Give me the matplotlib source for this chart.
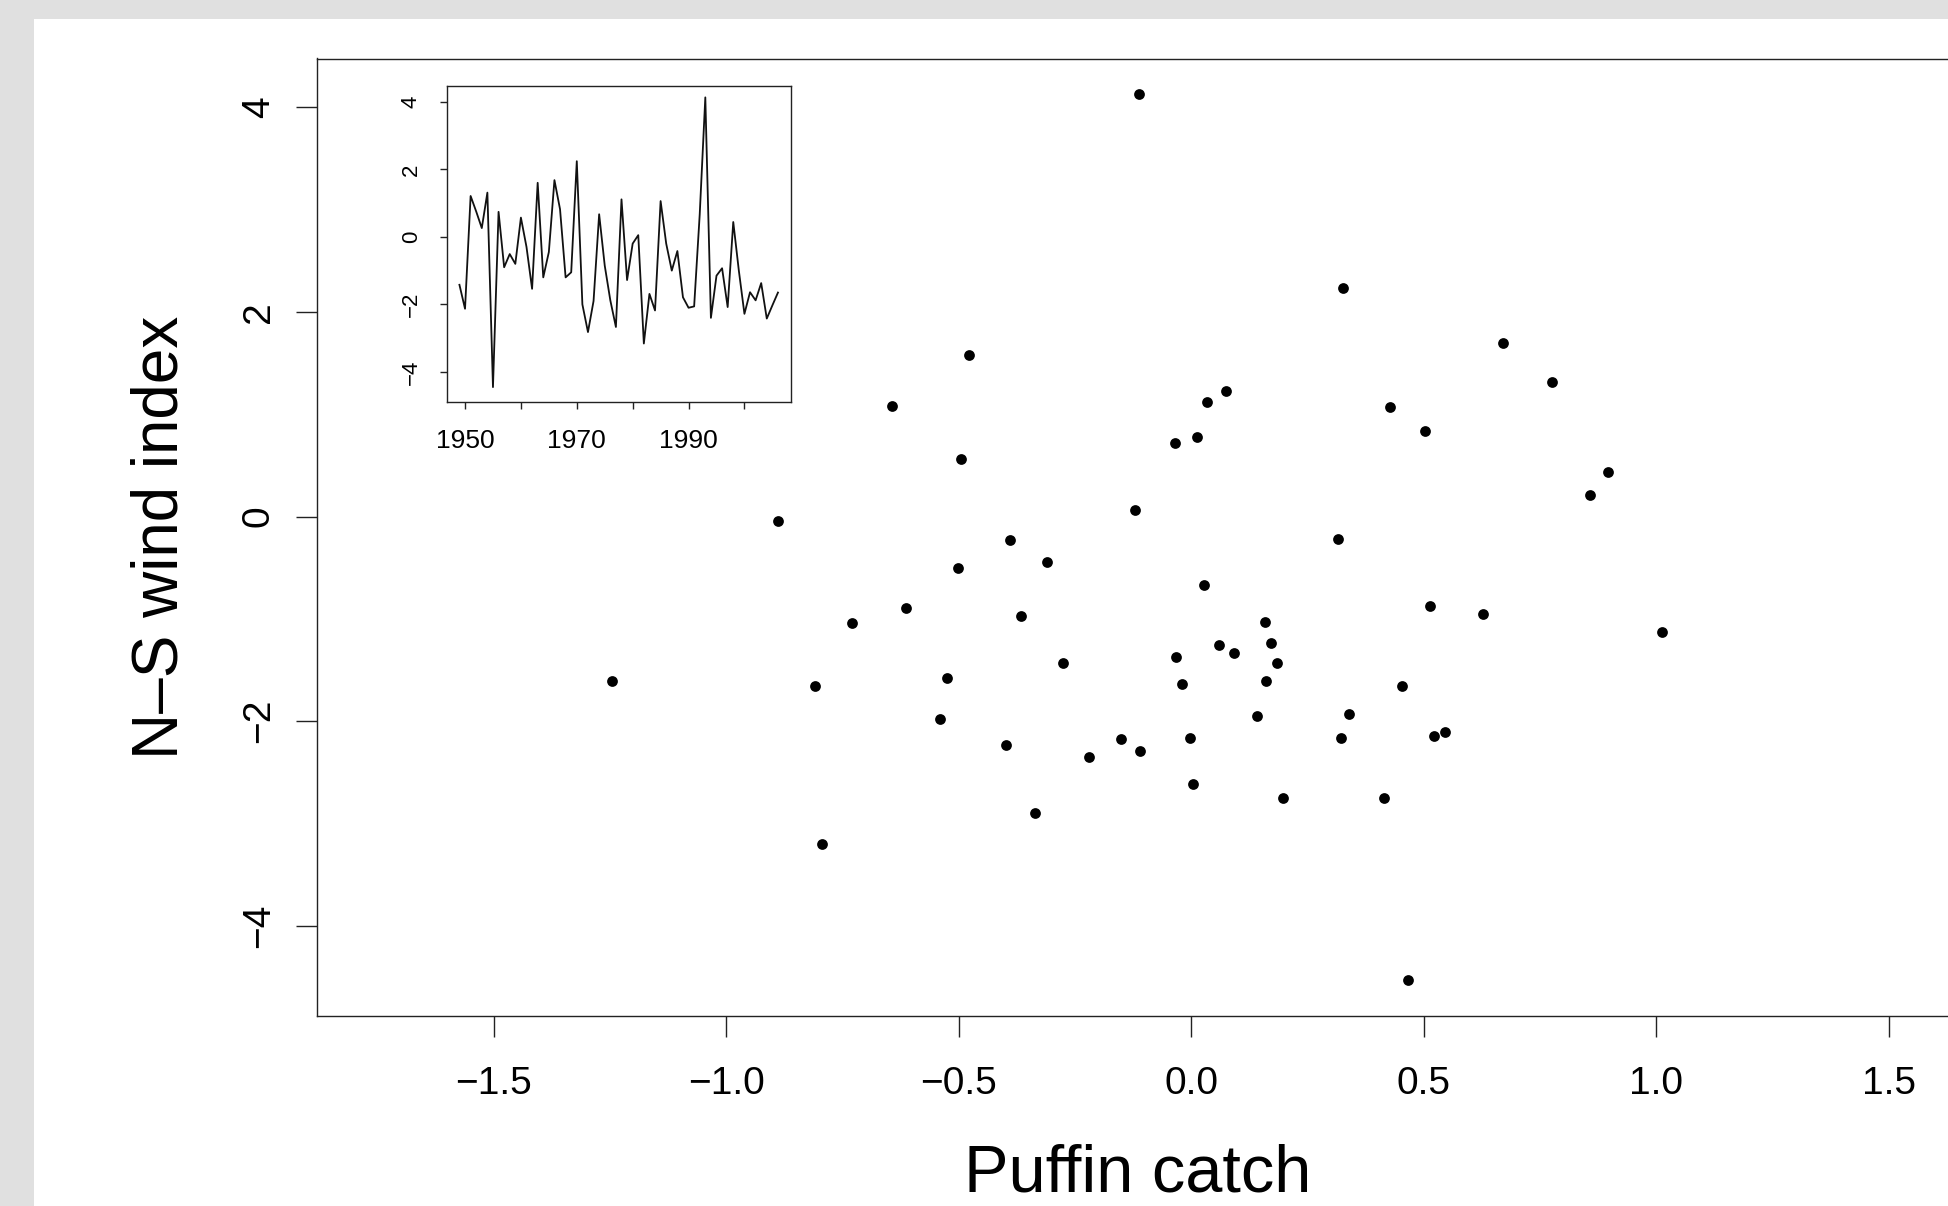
import matplotlib
matplotlib.use("Agg")
import matplotlib.pyplot as plt
from matplotlib.patches import Rectangle

plt.rcParams['font.family'] = ['Liberation Sans', 'DejaVu Sans']

# ---------------- Data ----------------
# scatter: puffin catch vs N-S wind index (one point per year)
puffin_catch = [-0.112, 0.326, 0.670, -0.478, 0.775, 0.075, 0.035, -0.644, 0.427, 0.502,
                0.013, -0.035, -0.494, 0.897, 0.857, -0.120, -0.889, -0.390, 0.315, -0.310,
                -0.502, 0.027, -0.614, 0.513, 0.628, -0.366, -0.729, 0.158, 1.012, 0.171,
                0.059, 0.091, -0.032, 0.184, -0.275, -1.245, -0.526, 0.160, -0.019, 0.454,
                -0.809, 0.339, 0.142, -0.540, 0.545, 0.523, -0.003, 0.323, -0.152, -0.398,
                -0.110, -0.219, 0.003, 0.198, 0.414, -0.337, -0.793, 0.467]
wind_index = [4.13, 2.23, 1.70, 1.58, 1.31, 1.23, 1.12, 1.08, 1.07, 0.84,
              0.78, 0.72, 0.56, 0.44, 0.21, 0.06, -0.04, -0.23, -0.22, -0.44,
              -0.50, -0.67, -0.89, -0.87, -0.95, -0.97, -1.04, -1.03, -1.13, -1.24,
              -1.26, -1.33, -1.37, -1.43, -1.43, -1.61, -1.58, -1.61, -1.64, -1.66,
              -1.66, -1.93, -1.95, -1.98, -2.11, -2.14, -2.16, -2.16, -2.17, -2.23,
              -2.29, -2.35, -2.61, -2.75, -2.75, -2.90, -3.20, -4.53]

# inset: wind index time series
years = list(range(1949, 2007))
wind_series = [-1.42, -2.13, 1.21, 0.75, 0.26, 1.31, -4.45, 0.74, -0.90, -0.51,
               -0.80, 0.57, -0.30, -1.54, 1.60, -1.20, -0.45, 1.68, 0.82, -1.20,
               -1.05, 2.24, -2.00, -2.82, -1.90, 0.67, -0.85, -1.88, -2.67, 1.11,
               -1.28, -0.20, 0.05, -3.16, -1.69, -2.18, 1.06, -0.20, -1.00, -0.42,
               -1.79, -2.10, -2.06, 0.67, 4.13, -2.40, -1.15, -0.93, -2.08, 0.44,
               -1.00, -2.28, -1.64, -1.88, -1.37, -2.42, -2.03, -1.65]

x_ticks = [-1.5, -1.0, -0.5, 0.0, 0.5, 1.0, 1.5]
y_ticks = [-4, -2, 0, 2, 4]
inset_xticks = [1950, 1960, 1970, 1980, 1990, 2000]
inset_xlabels = ["1950", "", "1970", "", "1990", ""]
inset_yticks = [-4, -2, 0, 2, 4]

# ---------------- Figure ----------------
W, H = 1948, 1206
fig = plt.figure(figsize=(W / 100, H / 100), dpi=100, facecolor="#e0e0e0")
# white page with a grey strip on the left and top
fig.patches.append(Rectangle((34 / W, 0), 1, 1 - 19 / H, transform=fig.transFigure,
                             facecolor="white", edgecolor="none", zorder=-1))

def px_axes(left, top, right, bottom):
    return [left / W, 1 - bottom / H, (right - left) / W, (bottom - top) / H]

# y range like R's default 4% padding
ymin, ymax = min(wind_index), max(wind_index)
pad = 0.04 * (ymax - ymin)
ylim = (ymin - pad, ymax + pad)

ax = fig.add_axes(px_axes(317, 58.5, 1958, 1015.5))
ax.scatter(puffin_catch, wind_index, s=60, color="black", linewidths=0, zorder=3)
ax.set_xlim(-1.88, 1.649)
ax.set_ylim(*ylim)
ax.set_xticks(x_ticks)
ax.set_yticks(y_ticks)
for s in ax.spines.values():
    s.set_linewidth(1.0)
    s.set_color("#222222")
ax.tick_params(axis="both", length=15, width=1.0, color="#222222", labelsize=28)
ax.tick_params(axis="x", pad=21)
ax.tick_params(axis="y", pad=14)
for lab in ax.get_yticklabels():
    lab.set_rotation(90)
    lab.set_va("center")

ax.set_xlabel("Puffin catch", fontsize=48, va="baseline")
ax.xaxis.set_label_coords(0.5, -(1192 - 1015.5) / 957)
ax.set_ylabel("N\u2013S wind index", fontsize=46, va="center")
ax.yaxis.set_label_coords((160 - 317) / 1641, 0.5)

# ---------------- Inset ----------------
ins = fig.add_axes(px_axes(446.7, 85.7, 790.7, 401.5))
ins.plot(years, wind_series, color="#111111", linewidth=1.3)
ins.set_xlim(1949 - 0.04 * 57, 2006 + 0.04 * 57)
ins.set_ylim(*ylim)
ins.set_xticks(inset_xticks)
ins.set_xticklabels(inset_xlabels)
ins.set_yticks(inset_yticks)
for s in ins.spines.values():
    s.set_linewidth(1.0)
    s.set_color("#222222")
ins.tick_params(axis="both", length=5, width=1.0, color="#222222")
ins.tick_params(axis="x", labelsize=19, pad=15)
ins.tick_params(axis="y", labelsize=16, pad=13)
for lab in ins.get_yticklabels():
    lab.set_rotation(90)
    lab.set_va("center")

fig.savefig("out.png", dpi=100, facecolor=fig.get_facecolor())
